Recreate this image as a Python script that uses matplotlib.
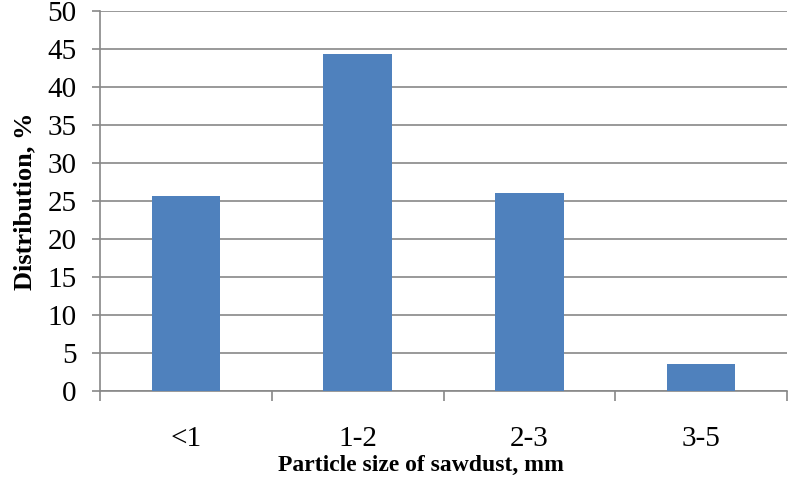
import matplotlib
matplotlib.use("Agg")
import matplotlib.pyplot as plt
import numpy as np

# datos
categorias = ["<1", "1-2", "2-3", "3-5"]
distribucion = [25.7, 44.4, 26.1, 3.6]
yticks = list(range(0, 55, 5))

plt.rcParams['font.family'] = ['Liberation Serif', 'DejaVu Serif']

fig = plt.figure(figsize=(7.88, 4.84), dpi=100)
ax = fig.add_axes([100/788, 93/484, 687/788, 380/484])

x = np.arange(len(categorias))
ax.bar(x, distribucion, width=0.4, color="#4F81BD", zorder=3)

ax.set_xlim(-0.5, len(categorias) - 0.5)
ax.set_ylim(0, 50)
ax.set_yticks(yticks)
ax.yaxis.grid(True, color="#888888", linewidth=1.2, zorder=0)

# marcas del eje x entre categorias
ax.set_xticks(np.arange(-0.5, len(categorias)), minor=False)
ax.set_xticklabels([])
ax.set_xticks(x, minor=True)
ax.set_xticklabels(categorias, minor=True)
ax.tick_params(axis="x", which="major", length=7, color="#888888", width=1.2)
ax.tick_params(axis="x", which="minor", length=0, pad=25, labelsize=21)
ax.tick_params(axis="y", length=6, color="#888888", width=1.2, labelsize=21, pad=11)

for lado in ["top", "right"]:
    ax.spines[lado].set_visible(False)
for lado in ["left", "bottom"]:
    ax.spines[lado].set_color("#888888")
    ax.spines[lado].set_linewidth(1.2)

ax.set_xlabel("Particle size of sawdust, mm", fontsize=17, fontweight="bold")
ax.xaxis.set_label_coords(0.467, -0.168)
ax.set_ylabel("Distribution, %", fontsize=19, fontweight="bold", labelpad=8)

fig.savefig("out.png", dpi=100)
